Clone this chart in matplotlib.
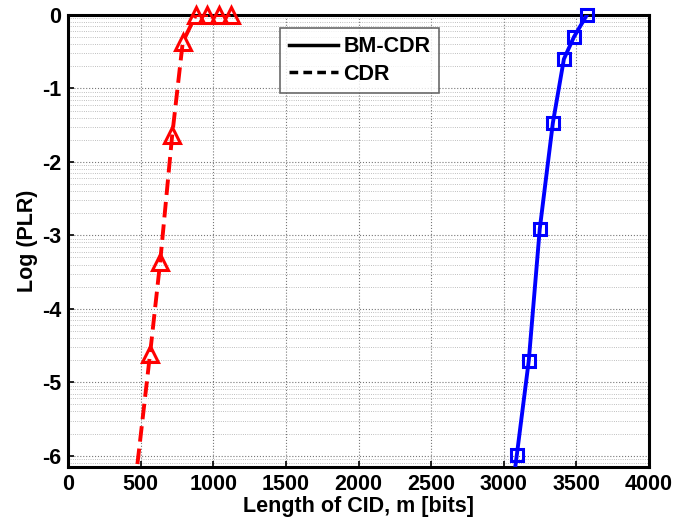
import matplotlib
matplotlib.use("Agg")

import matplotlib.pyplot as plt
import numpy as np

plt.rcParams["font.family"] = ["Liberation Sans", "DejaVu Sans"]
plt.rcParams["font.weight"] = "bold"
plt.rcParams["axes.unicode_minus"] = False

# BM-CDR (blue, squares); first point lies below the visible range
bm_x = [3050, 3090, 3172, 3248, 3338, 3414, 3483, 3572]
bm_y = [-6.6, -5.99, -4.71, -2.91, -1.47, -0.60, -0.30, 0.0]

# CDR (red dashed, triangles); first point lies below the visible range
cdr_x = [460, 565, 634, 717, 790, 880, 960, 1040, 1120]
cdr_y = [-6.42, -4.61, -3.37, -1.64, -0.37, 0.0, 0.0, 0.0, 0.0]

x_ticks = [0, 500, 1000, 1500, 2000, 2500, 3000, 3500, 4000]
y_ticks = [0, -1, -2, -3, -4, -5, -6]

fig = plt.figure(figsize=(6.9, 5.25), dpi=100)
ax = fig.add_axes([0.0986, 0.1105, 0.842, 0.861])

ymin = np.log10(7e-7)
ax.set_xlim(0, 4000)
ax.set_ylim(ymin, 0)

# grid: major dotted, minor at log positions inside each decade
for xt in x_ticks[1:-1]:
    ax.axvline(xt, color="#777777", ls=":", lw=0.8, zorder=0)
for d in range(-7, 0):
    ax.axhline(d + 1, color="#777777", ls=":", lw=0.8, zorder=0)
    for k in range(2, 10):
        yy = d + np.log10(k)
        if ymin < yy < 0:
            ax.axhline(yy, color="#aaaaaa", ls=":", lw=0.6, zorder=0)

ax.plot(bm_x, bm_y, color="#0000ff", lw=2.8, zorder=3)
ax.plot(bm_x[1:], bm_y[1:], ls="none", marker="s", ms=9, mfc="none",
        mec="#0000ff", mew=2.2, clip_on=False, zorder=4)

ax.plot(cdr_x, cdr_y, color="#ff0000", lw=2.8, ls=(0, (4, 1.8)), zorder=3)
ax.plot(cdr_x[1:], cdr_y[1:], ls="none", marker="^", ms=11, mfc="none",
        mec="#ff0000", mew=2.2, clip_on=False, zorder=4)

# legend uses plain black lines
h1, = ax.plot([], [], color="black", lw=2.5, label="BM-CDR")
h2, = ax.plot([], [], color="black", lw=2.5, ls=(0, (2.5, 1.5)), label="CDR")
leg = ax.legend(handles=[h1, h2], loc="upper left", bbox_to_anchor=(0.365, 0.972),
                fontsize=15.5, frameon=True, fancybox=False, handlelength=2.3,
                handletextpad=0.25, borderpad=0.4, labelspacing=0.3,
                borderaxespad=0)
leg.get_frame().set_edgecolor("#444444")
leg.get_frame().set_linewidth(1.2)
for t in leg.get_texts():
    t.set_fontweight("bold")

ax.set_xticks(x_ticks)
ax.set_yticks(y_ticks)
ax.tick_params(direction="in", length=4, labelsize=15.5, width=1.2, pad=5)
for lab in ax.get_xticklabels() + ax.get_yticklabels():
    lab.set_fontweight("bold")

for sp in ax.spines.values():
    sp.set_linewidth(2.2)

ax.set_xlabel("Length of CID, m [bits]", fontsize=15.5, fontweight="bold", labelpad=1)
ax.set_ylabel("Log (PLR)", fontsize=15.5, fontweight="bold", labelpad=3)

fig.savefig("out.png", dpi=100)
